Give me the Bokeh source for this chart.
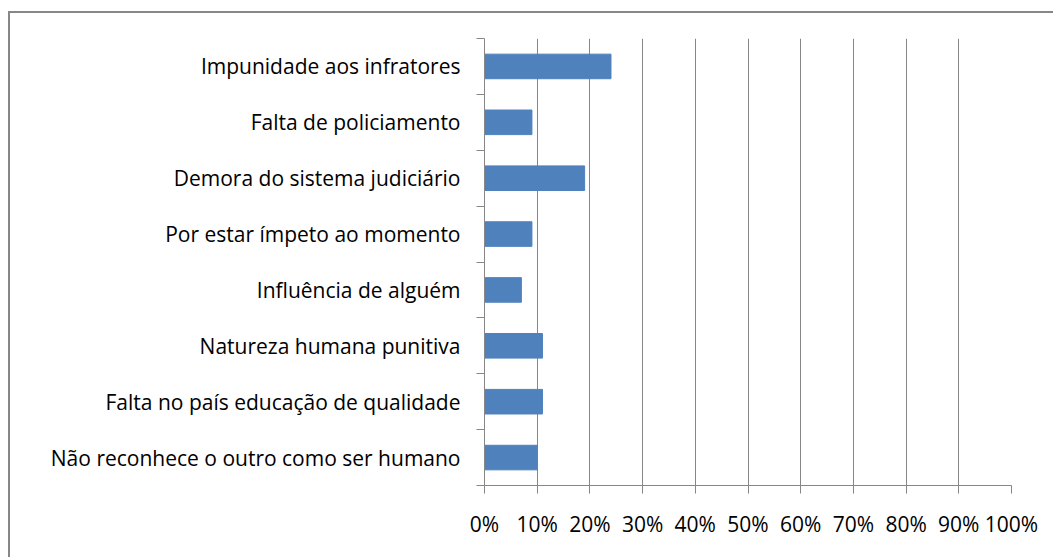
from bokeh.plotting import figure
from bokeh.models import FixedTicker, NumeralTickFormatter, Range1d
from bokeh.embed import file_html
from bokeh.resources import INLINE

categories = [
    "Impunidade aos infratores",
    "Falta de policiamento",
    "Demora do sistema judiciário",
    "Por estar ímpeto ao momento",
    "Influência de alguém",
    "Natureza humana punitiva",
    "Falta no país educação de qualidade",
    "Não reconhece o outro como ser humano",
]
values = [0.24, 0.09, 0.19, 0.09, 0.07, 0.11, 0.11, 0.10]
x_ticks = [i / 10 for i in range(11)]

n = len(categories)
centers = [n - i - 0.5 for i in range(n)]
boundaries = list(range(n + 1))

FONT = "Open Sans"
GRAY = "#878787"

p = figure(width=1045, height=546, output_backend="svg", toolbar_location=None,
           x_range=Range1d(0, 1), y_range=Range1d(0, n),
           min_border_left=474, min_border_right=44, min_border_top=25, min_border_bottom=74)
p.outline_line_color = None
p.background_fill_color = "white"
p.border_fill_color = "white"
p.styles = {"margin-left": "8px", "margin-top": "11px",
            "border-left": "2px solid " + GRAY, "border-top": "2px solid " + GRAY}

p.hbar(y=centers, right=values, left=0, height=0.44, color="#4F81BD")

# x axis
p.xaxis.ticker = FixedTicker(ticks=x_ticks)
p.xaxis.formatter = NumeralTickFormatter(format="0%")
p.xaxis.axis_line_color = GRAY
p.xaxis.major_tick_line_color = GRAY
p.xaxis.major_tick_out = 8
p.xaxis.major_tick_in = 0
p.xaxis.minor_tick_line_color = None
p.xaxis.major_label_text_font = FONT
p.xaxis.major_label_text_font_size = "21px"
p.xaxis.major_label_text_color = "black"
p.xaxis.major_label_standoff = 16

# y axis
p.yaxis.ticker = FixedTicker(ticks=centers, minor_ticks=boundaries)
p.yaxis.major_label_overrides = {c: cat for c, cat in zip(centers, categories)}
p.yaxis.axis_line_color = GRAY
p.yaxis.major_tick_line_color = None
p.yaxis.major_tick_out = 0
p.yaxis.major_tick_in = 0
p.yaxis.minor_tick_line_color = GRAY
p.yaxis.minor_tick_out = 8
p.yaxis.minor_tick_in = 0
p.yaxis.major_label_text_font = FONT
p.yaxis.major_label_text_font_size = "21px"
p.yaxis.major_label_text_color = "black"
p.yaxis.major_label_standoff = 16

p.xgrid.grid_line_color = GRAY
p.xgrid.grid_line_width = 1
p.ygrid.grid_line_color = None

open("out.html", "w").write(file_html(p, INLINE))
